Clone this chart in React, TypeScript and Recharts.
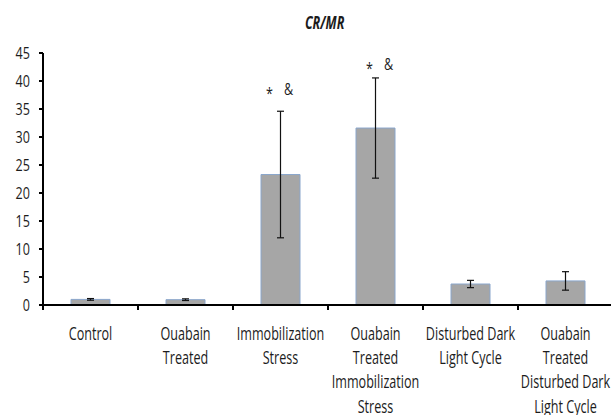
import React from 'react';
import { BarChart, Bar, XAxis, YAxis, ErrorBar, ReferenceDot } from 'recharts';

const groups = ['c1', 'c2', 'c3', 'c4', 'c5', 'c6'];
const groupLabels = [
  ['Control'],
  ['Ouabain', 'Treated'],
  ['Immobilization', 'Stress'],
  ['Ouabain', 'Treated', 'Immobilization', 'Stress'],
  ['Disturbed Dark', 'Light Cycle'],
  ['Ouabain', 'Treated', 'Disturbed Dark', 'Light Cycle'],
];
const ratio = [1.0, 0.95, 23.3, 31.6, 3.75, 4.3];
const ratioErr = [0.15, 0.15, 11.3, 8.95, 0.65, 1.65];
// significance marks: group, height in axis units, sideways nudge
const marks = [
  { group: 'c3', level: 38.6, dx: 0 },
  { group: 'c4', level: 43.0, dx: 5 },
];
const yTicks = [0, 5, 10, 15, 20, 25, 30, 35, 40, 45];

const FONT = '"Open Sans", sans-serif';
const INK = '#1c1c1c';

const data = groups.map((g, i) => ({ group: g, value: ratio[i], err: ratioErr[i] }));

// text drawn condensed horizontally
function Narrow({ x, y, size, squeeze = 0.74, anchor = 'middle', lines }: any) {
  return (
    <text
      transform={`translate(${x} ${y}) scale(${squeeze} 1)`}
      textAnchor={anchor}
      fontFamily={FONT}
      fontSize={size}
      fill={INK}
    >
      {lines.map((t: string, k: number) => (
        <tspan key={k} x={0} dy={k === 0 ? 0 : 24.5}>
          {t}
        </tspan>
      ))}
    </text>
  );
}

function GroupTick(props: any) {
  const { x, y, payload, index } = props;
  const half = payload?.offset ?? 47.5;
  return (
    <g>
      <line x1={x - half} x2={x - half} y1={y} y2={y + 5} stroke="#000" strokeWidth={2} />
      {index === groups.length - 1 && (
        <line x1={x + half} x2={x + half} y1={y} y2={y + 5} stroke="#000" strokeWidth={2} />
      )}
      <Narrow x={x} y={y + 34.5} size={18} squeeze={0.7} lines={groupLabels[index] ?? []} />
    </g>
  );
}

function ValueTick(props: any) {
  const { x, y, payload } = props;
  return <Narrow x={x} y={y + 6} size={17} anchor="end" lines={[String(payload.value)]} />;
}

function MarkShape(props: any) {
  const { cx, cy, dx = 0 } = props;
  return (
    <g>
      <Narrow x={cx - 11 + dx} y={cy + 10} size={17} lines={['*']} />
      <Narrow x={cx + 8 + dx} y={cy + 6} size={17} lines={['&']} />
    </g>
  );
}

export default function App() {
  return (
    <div style={{ position: 'fixed', left: 0, top: 0, width: 611, height: 415, background: '#fff' }}>
      <div
        style={{
          position: 'absolute',
          left: 0,
          width: 650,
          top: 13,
          textAlign: 'center',
          fontFamily: FONT,
          fontWeight: 'bold',
          fontStyle: 'italic',
          fontSize: 17,
          color: INK,
          lineHeight: '20px',
        }}
      >
        <span style={{ display: 'inline-block', transform: 'scaleX(0.74)' }}>CR/MR</span>
      </div>
      <BarChart
        width={620}
        height={415}
        data={data}
        margin={{ top: 53, right: 7, left: 0, bottom: 0 }}
        barSize={39}
      >
        <XAxis
          dataKey="group"
          height={110}
          tick={<GroupTick />}
          tickLine={false}
          tickSize={0}
          tickMargin={0}
          axisLine={{ stroke: '#000', strokeWidth: 2 }}
          interval={0}
        />
        <YAxis
          width={43}
          domain={[0, 45]}
          ticks={yTicks}
          interval={0}
          tickSize={4}
          tickMargin={9}
          tickLine={{ stroke: '#000', strokeWidth: 2 }}
          axisLine={{ stroke: '#000', strokeWidth: 2 }}
          tick={<ValueTick />}
        />
        <Bar dataKey="value" fill="#a6a6a6" stroke="#8aa6cc" strokeWidth={1} isAnimationActive={false}>
          <ErrorBar dataKey="err" width={3.5} stroke="#111" strokeWidth={1.2} />
        </Bar>
        {marks.map((m) => (
          <ReferenceDot key={m.group} x={m.group} y={m.level} r={0} shape={<MarkShape dx={m.dx} />} />
        ))}
      </BarChart>
    </div>
  );
}
